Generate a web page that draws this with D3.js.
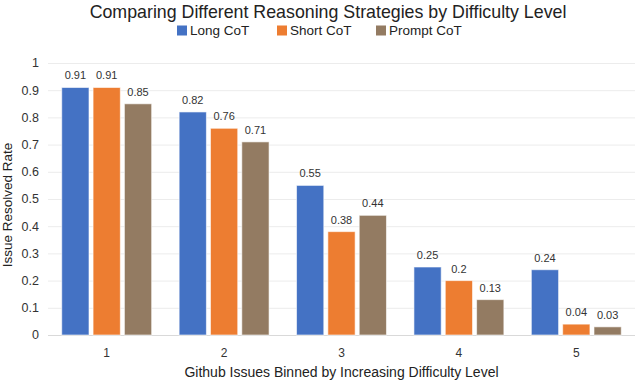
<!DOCTYPE html>
<html>
<head>
<meta charset="utf-8">
<script src="https://cdn.jsdelivr.net/npm/d3@7"></script>
<style>
  body { margin: 0; background: #fff; }
  svg { font-family: "Liberation Sans", Arial, sans-serif; }
</style>
</head>
<body>
<svg id="chart" width="637" height="383"></svg>
<script>
// Chart data
var categories = ['1', '2', '3', '4', '5'];
var seriesNames = ['Long CoT', 'Short CoT', 'Prompt CoT'];
var longCoT = [0.91, 0.82, 0.55, 0.25, 0.24];
var shortCoT = [0.91, 0.76, 0.38, 0.2, 0.04];
var promptCoT = [0.85, 0.71, 0.44, 0.13, 0.03];
var yTicks = [0, 0.1, 0.2, 0.3, 0.4, 0.5, 0.6, 0.7, 0.8, 0.9, 1];
var colors = ['#4472c4', '#ed7d31', '#937b62'];

var margin = { top: 63, right: 2, bottom: 48, left: 48 };
var svg = d3.select('#chart');
var width = +svg.attr('width');
var height = +svg.attr('height');

var series = [longCoT, shortCoT, promptCoT];
var rows = categories.map(function (c, i) {
  return { cat: c, values: series.map(function (s, j) { return { key: j, value: s[i] }; }) };
});

var x0 = d3.scaleBand()
  .domain(categories)
  .range([margin.left, width - margin.right])
  .paddingInner(0.234)
  .paddingOuter(0.117);

var x1 = d3.scaleBand()
  .domain(d3.range(seriesNames.length))
  .range([0, x0.bandwidth()])
  .paddingInner(0.13);

var y = d3.scaleLinear()
  .domain([0, 1])
  .range([height - margin.bottom, margin.top]);

// Gridlines
svg.append('g')
  .selectAll('line')
  .data(yTicks)
  .enter()
  .append('line')
    .attr('x1', margin.left)
    .attr('x2', width - margin.right)
    .attr('y1', function (d) { return y(d) + 0.5; })
    .attr('y2', function (d) { return y(d) + 0.5; })
    .attr('stroke', function (d) { return d === 0 ? '#d9d9d9' : '#ececec'; })
    .attr('stroke-width', 1);

// Y tick labels
svg.append('g')
  .selectAll('text')
  .data(yTicks)
  .enter()
  .append('text')
    .attr('x', 39)
    .attr('y', function (d) { return y(d); })
    .attr('dy', '0.35em')
    .attr('text-anchor', 'end')
    .attr('font-size', 12.5)
    .attr('fill', '#333')
    .text(function (d) { return d3.format('~g')(d); });

// X tick labels
svg.append('g')
  .selectAll('text')
  .data(categories)
  .enter()
  .append('text')
    .attr('x', function (d) { return x0(d) + x0.bandwidth() / 2; })
    .attr('y', 357)
    .attr('text-anchor', 'middle')
    .attr('font-size', 12)
    .attr('fill', '#333')
    .text(function (d) { return d; });

// Bars
var groups = svg.append('g')
  .selectAll('g')
  .data(rows)
  .enter()
  .append('g')
    .attr('transform', function (d) { return 'translate(' + x0(d.cat) + ',0)'; });

groups.selectAll('rect')
  .data(function (d) { return d.values; })
  .enter()
  .append('rect')
    .attr('x', function (d) { return x1(d.key); })
    .attr('y', function (d) { return y(d.value); })
    .attr('width', x1.bandwidth())
    .attr('height', function (d) { return y(0) - y(d.value); })
    .attr('fill', function (d) { return colors[d.key]; })
    .attr('stroke', '#fff')
    .attr('stroke-opacity', 0.6)
    .attr('stroke-width', 1);

// Value labels
groups.selectAll('text')
  .data(function (d) { return d.values; })
  .enter()
  .append('text')
    .attr('x', function (d) { return x1(d.key) + x1.bandwidth() / 2; })
    .attr('y', function (d) { return y(d.value) - 8; })
    .attr('text-anchor', 'middle')
    .attr('font-size', 11)
    .attr('fill', '#333')
    .text(function (d) { return d.value; });

// Title
svg.append('text')
  .attr('x', 328)
  .attr('y', 18)
  .attr('text-anchor', 'middle')
  .attr('font-size', 17.8)
  .attr('fill', '#222')
  .text('Comparing Different Reasoning Strategies by Difficulty Level');

// Legend
var legendX = [177, 277, 376];
var legend = svg.append('g')
  .selectAll('g')
  .data(seriesNames)
  .enter()
  .append('g')
    .attr('transform', function (d, i) { return 'translate(' + legendX[i] + ',30.5)'; });

legend.append('rect')
  .attr('x', 0)
  .attr('y', -5)
  .attr('width', 10)
  .attr('height', 10)
  .attr('fill', function (d, i) { return colors[i]; });

legend.append('text')
  .attr('x', 13)
  .attr('y', 0)
  .attr('dy', '0.35em')
  .attr('font-size', 13.5)
  .attr('fill', '#222')
  .text(function (d) { return d; });

// Axis titles
svg.append('text')
  .attr('x', (margin.left + width - margin.right) / 2)
  .attr('y', 377)
  .attr('text-anchor', 'middle')
  .attr('font-size', 14)
  .attr('fill', '#222')
  .text('Github Issues Binned by Increasing Difficulty Level');

svg.append('text')
  .attr('transform', 'translate(12,205) rotate(-90)')
  .attr('text-anchor', 'middle')
  .attr('font-size', 13.5)
  .attr('fill', '#222')
  .text('Issue Resolved Rate');
</script>
</body>
</html>
